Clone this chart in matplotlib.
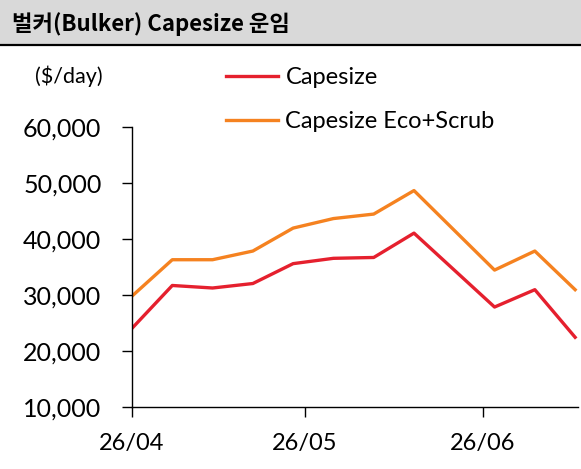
import numpy as np
import pandas as pd
from matplotlib import pyplot as plt
import matplotlib.dates as mdates

dates = pd.to_datetime(['2026-04-01', '2026-04-08', '2026-04-15', '2026-04-22', '2026-04-29',
                        '2026-05-06', '2026-05-13', '2026-05-20', '2026-06-03', '2026-06-10',
                        '2026-06-17'])
capesize = [24050, 31700, 31250, 32050, 35600, 36550, 36700, 41050, 27850, 30950, 22450]
eco_scrub = [29800, 36300, 36300, 37850, 41950, 43650, 44450, 48650, 34450, 37850, 30950]
tick_dates = pd.to_datetime(['2026-04-01', '2026-05-01', '2026-06-01'])
tick_labels = ['26/04', '26/05', '26/06']
y_ticks = [10000, 20000, 30000, 40000, 50000, 60000]

plt.rcParams['font.family'] = ['Lato', 'DejaVu Sans']

fig = plt.figure(figsize=(5.81, 4.69), dpi=100)

# title bar
bar = fig.add_axes([0, 1 - 45 / 469, 1, 45 / 469])
bar.set_facecolor('#d9d9d9')
bar.set_xticks([])
bar.set_yticks([])
for s in ['top', 'left', 'right']:
    bar.spines[s].set_visible(False)
bar.spines['bottom'].set_linewidth(1.6)
bar.spines['bottom'].set_color('black')
bar.text(12 / 581, 0.47, '벌커(Bulker) Capesize 운임', transform=bar.transAxes,
         fontsize=16, fontweight='bold', va='center', ha='left',
         family=['Noto Sans CJK KR', 'DejaVu Sans'])

ax = fig.add_axes([132 / 581, 1 - 407 / 469, 446 / 581, 280 / 469])
ax.plot(dates, capesize, color='#e5202e', linewidth=2.4, label='Capesize')
ax.plot(dates, eco_scrub, color='#f58220', linewidth=2.4, label='Capesize Eco+Scrub')

ax.set_xlim(dates[0], pd.Timestamp('2026-06-17 12:00'))
ax.set_ylim(10000, 60000)
ax.set_yticks(y_ticks)
ax.set_yticklabels([f'{v:,}' for v in y_ticks])
ax.set_xticks(tick_dates)
ax.set_xticklabels(tick_labels)
ax.tick_params(axis='y', direction='out', length=7, width=1, pad=15, labelsize=18)
ax.tick_params(axis='x', direction='out', length=7, width=1, pad=12, labelsize=17)
for s in ['top', 'right']:
    ax.spines[s].set_visible(False)
ax.spines['left'].set_linewidth(1)
ax.spines['bottom'].set_linewidth(1)

fig.text(35 / 581, 1 - 76 / 469, '($/day)', fontsize=15.5, va='center', ha='left')

ax.legend(loc='upper left', bbox_to_anchor=(217 / 581, 1 - 58 / 469), bbox_transform=fig.transFigure,
          frameon=False, fontsize=17, handlelength=2.2, handletextpad=0.3, labelspacing=0.95,
          borderaxespad=0)

fig.savefig('out.png', dpi=100)
